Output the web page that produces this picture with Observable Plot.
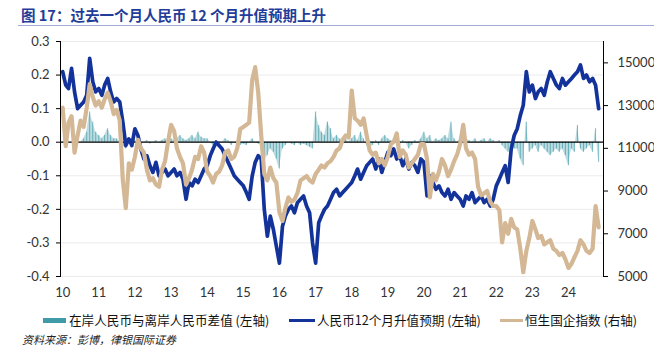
<!DOCTYPE html>
<html>
<head>
<meta charset="utf-8">
<script src="https://cdn.jsdelivr.net/npm/d3@7"></script>
<script src="https://cdn.jsdelivr.net/npm/@observablehq/plot@0.6"></script>
<style>
  html, body { margin: 0; padding: 0; background: #fff; }
  body { width: 654px; height: 347px; position: relative; overflow: hidden; font-family: "Lato", "Noto Sans CJK SC", sans-serif; }
  #title { position: absolute; left: 21px; top: 4px; font-family: "Noto Sans CJK SC", sans-serif; font-weight: 700; font-size: 14.5px; color: #1f3d99; white-space: nowrap; }
  #rule { position: absolute; left: 18px; top: 25px; width: 636px; height: 0; border-top: 1.5px solid #a3acd4; }
  #chart { position: absolute; left: 0; top: 28px; }
  #legend { position: absolute; top: 309px; left: 0; width: 654px; height: 22px; font-family: "Noto Sans CJK SC", sans-serif; font-size: 12.6px; color: #111; }
  .sw { position: absolute; }
  .lt { position: absolute; top: 0; white-space: nowrap; line-height: 22px; }
  #source { position: absolute; left: 22px; top: 333px; line-height: 13px; font-family: "Noto Sans CJK SC", sans-serif; font-size: 11px; font-style: italic; color: #222; white-space: nowrap; }
</style>
</head>
<body>
<div id="title">图 17：过去一个月人民币 12 个月升值预期上升</div>
<div id="rule"></div>
<div id="chart"></div>
<div id="legend"></div>
<div id="source">资料来源：彭博，律银国际证券</div>
<script>
// ---- data (monthly, starting Jan 2010) ----
const startYear = 2010;
const yearLabels = ["10","11","12","13","14","15","16","17","18","19","20","21","22","23","24"];
const leftTicks = [-0.4, -0.3, -0.2, -0.1, 0.0, 0.1, 0.2, 0.3];
const rightTicks = [5000, 7000, 9000, 11000, 13000, 15000];
const seriesNames = ["在岸人民币与离岸人民币差值 (左轴)", "人民币12个月升值预期 (左轴)", "恒生国企指数 (右轴)"];

// 人民币12个月升值预期 (left axis)
const expect12m = [
  0.21,0.17,0.16,0.22,0.15,0.10,0.11,0.12,0.14,0.25,0.18,0.15,
  0.16,0.14,0.17,0.19,0.15,0.12,0.13,0.12,0.06,-0.01,0.01,-0.01,
  0.04,0.02,-0.02,-0.05,-0.04,-0.07,-0.09,-0.06,-0.10,-0.09,-0.08,-0.10,
  -0.09,-0.08,-0.10,-0.09,-0.11,-0.17,-0.12,-0.13,-0.11,-0.12,-0.10,-0.08,
  -0.07,-0.04,-0.02,0.00,-0.01,-0.02,-0.04,-0.06,-0.08,-0.10,-0.11,-0.12,
  -0.13,-0.15,-0.17,-0.10,-0.06,-0.04,-0.05,-0.20,-0.28,-0.22,-0.26,-0.31,
  -0.36,-0.25,-0.22,-0.20,-0.19,-0.21,-0.18,-0.17,-0.16,-0.19,-0.21,-0.30,
  -0.36,-0.24,-0.22,-0.20,-0.19,-0.17,-0.15,-0.14,-0.16,-0.15,-0.14,-0.13,
  -0.12,-0.10,-0.08,-0.11,-0.09,-0.07,-0.06,-0.05,-0.08,-0.05,-0.09,-0.06,
  -0.03,-0.04,-0.02,-0.05,-0.04,-0.07,-0.05,-0.08,-0.06,-0.07,-0.09,-0.05,
  -0.06,-0.16,-0.10,-0.12,-0.14,-0.13,-0.15,-0.16,-0.14,-0.17,-0.15,-0.16,
  -0.17,-0.19,-0.16,-0.17,-0.15,-0.18,-0.17,-0.16,-0.18,-0.17,-0.19,-0.17,
  -0.13,-0.11,-0.09,-0.07,-0.12,-0.02,0.02,0.04,0.08,0.11,0.21,0.15,
  0.17,0.13,0.15,0.16,0.14,0.18,0.21,0.19,0.17,0.16,0.19,0.17,
  0.18,0.19,0.20,0.21,0.23,0.19,0.20,0.18,0.19,0.17,0.10
];

// 恒生国企指数 (right axis)
const hscei = [
  12900,11100,12200,12500,10800,11600,12300,12000,12900,14000,13400,13000,
  13200,12900,13300,13600,13200,12600,12800,12300,9500,8200,10300,10000,
  10600,11400,11000,10800,10000,9500,9600,9300,9200,10000,10400,11300,
  12100,11800,11000,10600,10300,9300,9600,10000,10600,10500,11100,10800,
  9900,9700,9400,9800,9900,10200,10800,10900,10500,10600,11000,11900,
  12000,12100,12200,14200,14800,13600,11600,9800,9500,10100,9600,9400,
  8000,7600,8200,8700,8500,8600,8900,9500,9600,9700,9500,9400,
  9800,10000,10200,10100,10300,10400,10600,10900,11000,11400,11600,11500,
  13700,12400,12300,12100,12400,11600,10900,10700,10800,10300,10500,10200,
  10600,11200,11300,11700,10600,10900,10700,10100,10300,10500,10700,11200,
  11200,10500,8700,9800,9500,9900,10500,10200,9700,10000,10400,10700,
  11200,12100,11000,10700,10800,10500,9200,8800,8900,9000,8500,8300,
  8300,8100,6600,7500,7000,7700,7300,7200,6300,5200,6200,6800,
  7600,7200,6800,6900,6500,6600,6700,6300,6200,6000,6100,5800,
  5400,5600,5900,6200,6700,6500,6200,6100,6300,8300,7300
];

// 在岸人民币与离岸人民币差值 (left axis)
const cnyCnhSpread = [
  0,0,0,0,0,0,0,0.01,0.03,0.09,0.06,0.03,
  0.02,0.01,0.02,0.04,0.02,0.01,0.01,0.0,-0.01,-0.02,0.0,0.01,
  0.005,0.0,-0.005,0.0,0.005,-0.005,0.0,0.005,0.0,0.005,0.01,0.0,
  0.01,0.005,0.01,0.02,0.01,0.005,0.01,0.02,0.01,0.03,0.015,0.01,
  0.01,0.0,-0.01,0.005,-0.005,0.0,0.01,0.005,-0.01,0.0,-0.005,-0.01,
  -0.005,-0.01,0.0,0.01,0.0,-0.005,-0.01,-0.06,-0.04,-0.02,-0.03,-0.05,
  -0.08,-0.02,-0.01,0.0,-0.005,-0.01,0.0,-0.01,-0.005,-0.01,-0.015,-0.02,
  0.09,0.05,0.03,0.02,0.06,0.04,0.01,0.02,0.01,0.0,0.01,0.0,
  0.01,0.02,0.005,0.03,0.01,-0.01,-0.02,-0.01,0.005,-0.01,0.01,0.02,
  0.01,0.005,0.0,0.01,-0.01,0.005,0.0,-0.02,-0.01,0.005,0.0,0.01,
  0.03,0.01,0.02,0.0,0.01,0.005,0.01,0.02,0.01,0.06,0.01,0.0,
  0.01,0.0,0.01,0.005,0.0,0.01,0.0,0.005,0.01,0.0,0.01,0.005,
  0.0,0.005,-0.01,-0.02,-0.03,-0.01,-0.02,-0.02,-0.05,-0.07,0.06,-0.03,
  -0.02,-0.01,-0.03,-0.01,-0.02,-0.03,-0.04,-0.03,-0.02,-0.03,-0.02,-0.04,
  -0.07,-0.02,-0.03,0.05,-0.02,-0.03,-0.02,-0.01,-0.03,0.04,-0.06
];

// ---- build tables ----
const colors = { spread: "#3f9ba8", expect: "#13339b", hscei: "#d4b794" };
const dateAt = i => new Date(startYear, i, 1);
const rMin = 5000, rMax = 16000, lMin = -0.4, lMax = 0.3;
const toLeft = r => lMin + (r - rMin) / (rMax - rMin) * (lMax - lMin);
const fromLeft = v => rMin + (v - lMin) / (lMax - lMin) * (rMax - rMin);

const expectData = expect12m.map((v, i) => ({ date: dateAt(i), v }));
const hsceiData = hscei.map((r, i) => ({ date: dateAt(i), v: toLeft(r) }));
const spreadData = cnyCnhSpread.map((v, i) => ({ date: dateAt(i), v }));
const yearDates = yearLabels.map((_, i) => new Date(startYear + i, 0, 1));

const chart = Plot.plot({
  width: 654,
  height: 275,
  marginTop: 13,
  marginBottom: 27,
  marginLeft: 60,
  marginRight: 51,
  style: { fontFamily: "Lato, sans-serif", fontSize: "13px", color: "#333", background: "transparent" },
  x: { type: "time", domain: [new Date(2009, 11, 10), new Date(2024, 11, 20)] },
  y: { domain: [lMin, lMax] },
  marks: [
    Plot.ruleY(leftTicks, { stroke: "#ebebeb", strokeWidth: 1 }),
    Plot.areaY(spreadData, { x: "date", y: "v", fill: colors.spread, fillOpacity: 0.35 }),
    Plot.ruleX(spreadData, { x: "date", y1: 0, y2: "v", stroke: colors.spread, strokeWidth: 0.8, strokeOpacity: 0.85 }),
    Plot.ruleY([0], { stroke: "#000", strokeWidth: 1.3 }),
    Plot.lineY(expectData, { x: "date", y: "v", stroke: colors.expect, strokeWidth: 3.7, strokeLinejoin: "round" }),
    Plot.lineY(hsceiData, { x: "date", y: "v", stroke: colors.hscei, strokeWidth: 4.2, strokeLinejoin: "round" }),
    Plot.axisY(leftTicks, { anchor: "left", tickSize: 4, tickPadding: 7, tickFormat: d => d.toFixed(1), stroke: "#000", label: null }),
    Plot.axisY(rightTicks.map(toLeft), { anchor: "right", tickSize: 4, tickPadding: 10, tickFormat: d => String(Math.round(fromLeft(d) / 1000) * 1000), stroke: "#000", label: null }),
    Plot.axisX(yearDates, { anchor: "bottom", tickSize: 0, tickPadding: 11, tickFormat: (d, i) => yearLabels[i], label: null }),
    Plot.frame({ anchor: "left", stroke: "#000" }),
    Plot.frame({ anchor: "right", stroke: "#000" })
  ]
});
document.getElementById("chart").appendChild(chart);

// ---- legend ----
const legend = document.getElementById("legend");
const items = [
  { name: seriesNames[0], color: colors.spread, h: 5, sx: 43, sw: 23, tx: 69 },
  { name: seriesNames[1], color: colors.expect, h: 3, sx: 289, sw: 26, tx: 317 },
  { name: seriesNames[2], color: colors.hscei, h: 3, sx: 500, sw: 23, tx: 525 }
];
items.forEach(it => {
  const sw = document.createElement("span");
  sw.className = "sw";
  sw.style.left = it.sx + "px";
  sw.style.width = it.sw + "px";
  sw.style.height = it.h + "px";
  sw.style.top = (11 - it.h / 2) + "px";
  sw.style.background = it.color;
  legend.appendChild(sw);
  const t = document.createElement("span");
  t.className = "lt";
  t.style.left = it.tx + "px";
  t.textContent = it.name;
  legend.appendChild(t);
});
</script>
</body>
</html>
